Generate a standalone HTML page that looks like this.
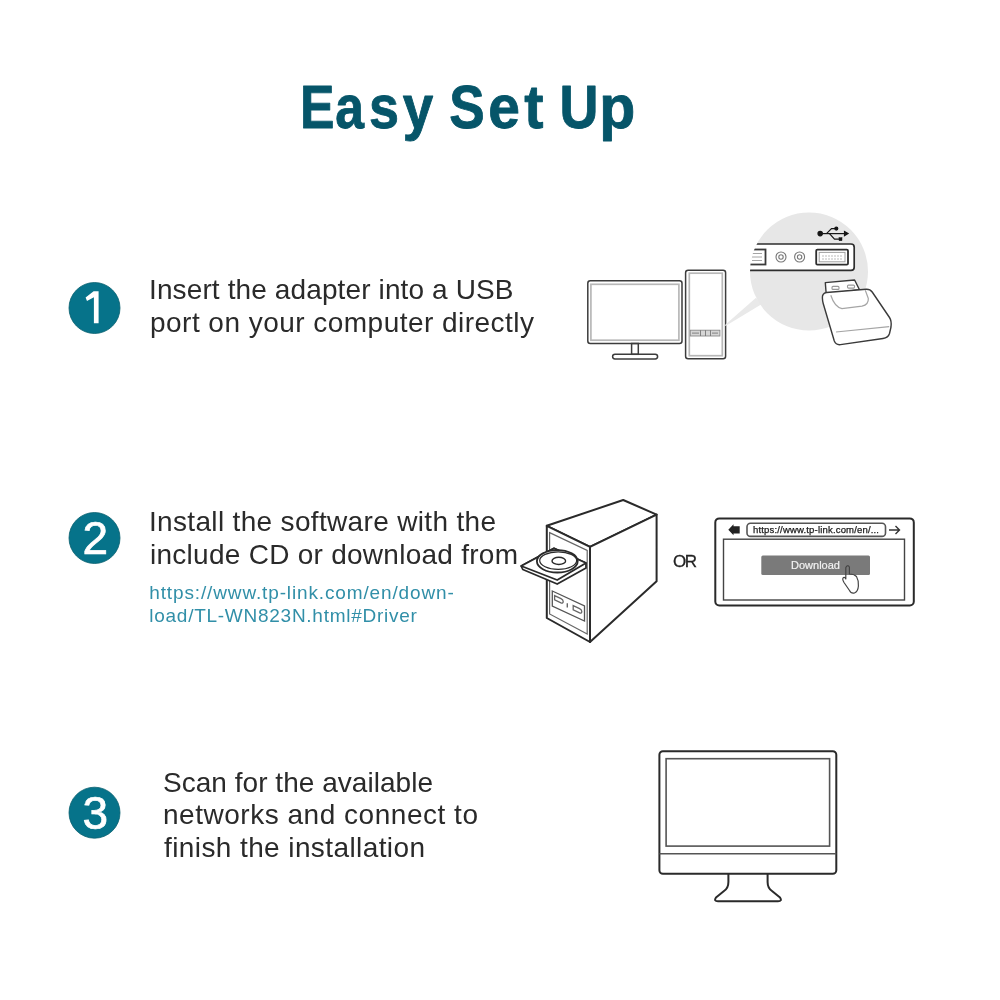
<!DOCTYPE html>
<html><head><meta charset="utf-8">
<style>
html,body{margin:0;padding:0;background:#fff;width:1000px;height:1000px;overflow:hidden}
svg{display:block;position:absolute;left:0;top:0;will-change:transform}
text{font-family:"Liberation Sans",sans-serif}
</style></head>
<body>
<svg width="1000" height="1000" viewBox="0 0 1000 1000">
<defs>
<clipPath id="magclip"><circle cx="809" cy="271.5" r="59"/></clipPath>
</defs>
<!-- Title -->
<g font-size="61.5" font-weight="bold" fill="#065569" stroke="#065569" stroke-width="0.9" stroke-linejoin="round">
<text transform="translate(300.02,128.0) scale(0.840,1)">E</text>
<text transform="translate(335.21,128.0) scale(0.840,1)">a</text>
<text transform="translate(368.90,128.0) scale(0.877,1)">s</text>
<text transform="translate(402.65,128.0) scale(0.891,1)">y</text>
<text transform="translate(449.29,128.0) scale(0.864,1)">S</text>
<text transform="translate(488.30,128.0) scale(0.926,1)">e</text>
<text transform="translate(524.15,128.0) scale(0.938,1)">t</text>
<text transform="translate(559.52,128.0) scale(0.877,1)">U</text>
<text transform="translate(599.31,128.0) scale(0.959,1)">p</text>
</g>

<!-- Step circles -->
<g fill="#06738a" stroke="#08606f" stroke-width="0.8">
<circle cx="94.5" cy="308" r="25.5"/>
<circle cx="94.5" cy="538" r="25.5"/>
<circle cx="94.5" cy="812.7" r="25.5"/>
</g>
<path d="M93.6,291.2 H98.6 V323.3 H93.9 V297.2 L87,301 L85.6,297.6 Z" fill="#fff"/>
<g fill="#fff" stroke="#fff" stroke-width="0.7" font-size="46" text-anchor="middle">
<text x="95.3" y="553.8">2</text>
<text x="95.3" y="829">3</text>
</g>

<!-- Body text -->
<g fill="#2a2a2a" font-size="28">
<text x="149" y="298.5" textLength="364.5" lengthAdjust="spacing">Insert the adapter into a USB</text>
<text x="150" y="331.5" textLength="384" lengthAdjust="spacing">port on your computer directly</text>
<text x="149" y="531" textLength="347" lengthAdjust="spacing">Install the software with the</text>
<text x="150" y="564" textLength="368" lengthAdjust="spacing">include CD or download from</text>
<text x="163" y="791.5" textLength="270" lengthAdjust="spacing">Scan for the available</text>
<text x="163" y="824" textLength="315" lengthAdjust="spacing">networks and connect to</text>
<text x="164" y="857" textLength="261" lengthAdjust="spacing">finish the installation</text>
</g>
<g fill="#318fa8" font-size="19">
<text x="149.3" y="598.9" textLength="304.5" lengthAdjust="spacing">https://www.tp-link.com/en/down-</text>
<text x="149.3" y="621.9" textLength="267.5" lengthAdjust="spacing">load/TL-WN823N.html#Driver</text>
</g>

<!-- Illustration 1 -->
<g fill="none" stroke="#3c3c3c" stroke-width="1.5">
<rect x="587.8" y="280.8" width="94.2" height="62.7" rx="2.5"/>
<rect x="631.6" y="343.5" width="6.7" height="10.8"/>
<rect x="612.6" y="354.2" width="45" height="4.8" rx="2.4"/>
<rect x="685.6" y="270.2" width="40" height="88.5" rx="2.5"/>
</g>
<g fill="none" stroke="#b8b8b8" stroke-width="1.7">
<rect x="590.9" y="284.3" width="88" height="55.9"/>
<rect x="689.3" y="273.2" width="33" height="82.5"/>
</g>
<rect x="690.3" y="330.2" width="29.6" height="5.8" fill="#d6d6d6" stroke="#8a8a8a" stroke-width="0.9"/>
<g stroke="#777" stroke-width="0.9" fill="none">
<path d="M700.5,330.2 V336 M705.5,330.2 V336 M710.5,330.2 V336"/>
<path d="M692,333.1 H699 M712,333.1 H718"/>
</g>
<polygon points="725,325 756,297.8 761.5,304.2 725.5,326" fill="#e9e9e9"/>
<circle cx="809" cy="271.5" r="59" fill="#e7e7e7"/>
<g clip-path="url(#magclip)">
<path d="M740,244 H851 Q854.2,244 854.2,247.2 V267.2 Q854.2,270.4 851,270.4 H740 Z" fill="#fff" stroke="#2e2e2e" stroke-width="1.7"/>
<rect x="745" y="249.5" width="20.5" height="15" fill="#fff" stroke="#3a3a3a" stroke-width="1.8"/>
<path d="M752,253.5 H762 M752,257 H762 M752,260.5 H762" stroke="#9a9a9a" stroke-width="0.9"/>
</g>
<g fill="none" stroke="#777" stroke-width="1.1">
<circle cx="781" cy="257" r="5"/><circle cx="781" cy="257" r="2.2"/>
<circle cx="799.6" cy="257" r="5"/><circle cx="799.6" cy="257" r="2.2"/>
</g>
<rect x="816.2" y="249.6" width="31.8" height="15" rx="1.2" fill="#fff" stroke="#2e2e2e" stroke-width="1.8"/>
<rect x="819.2" y="252.4" width="25.8" height="9.4" fill="none" stroke="#a0a0a0" stroke-width="1"/>
<path d="M822,256 H842 M822,259 H842" stroke="#aaa" stroke-width="0.8" stroke-dasharray="2,1"/>
<!-- USB symbol -->
<g stroke="#151515" stroke-width="1.2" fill="#151515">
<circle cx="820.2" cy="233.6" r="2.2"/>
<path d="M820,233.6 H845" fill="none"/>
<path d="M844.5,231.6 L848,233.6 L844.5,235.6 Z"/>
<path d="M826.5,233.6 L831.5,228.6 H835.5" fill="none"/>
<circle cx="836.3" cy="228.6" r="1.5"/>
<path d="M829.5,233.6 L834.5,239.2 H839" fill="none"/>
<rect x="839" y="237.7" width="3" height="3" stroke-width="0.5"/>
</g>
<!-- adapter -->
<g stroke="#3a3a3a" stroke-width="1.4" fill="#fff" stroke-linejoin="round">
<path d="M825.3,282.6 L854.6,280 L859.5,289.8 L826.2,294 Z"/>
<path d="M822.4,298 Q822,293.5 826.5,292.5 L866,289.3 Q870,289 872.2,292 L889.5,317.5 Q891.8,321 891,327 L889.5,333.5 Q888.2,337.8 883,338.5 L840.5,344.6 Q836,345.2 834.3,341 L823.2,303.5 Q822.5,301 822.4,298 Z"/>
</g>
<g fill="none" stroke="#a5a5a5" stroke-width="1.2">
<path d="M830.8,295.2 Q834.5,306.8 842,308.6 L862,306.2 Q868.8,304.5 868.3,298.5 L865.3,290.2"/>
<path d="M836,332 L889.2,326.7"/>
</g>
<g fill="none" stroke="#999" stroke-width="1.1">
<rect x="832" y="286.4" width="7" height="3" rx="1"/>
<rect x="847.5" y="285.1" width="7" height="3" rx="1"/>
</g>

<!-- Illustration 2: CD tower -->
<g fill="#fff" stroke="#2a2a2a" stroke-width="2" stroke-linejoin="round">
<path d="M546.8,525.8 L623.2,500 L656.6,514.6 L590,546.8 Z"/>
<path d="M590,546.8 L656.6,514.6 L656.6,581.2 L590,642 Z"/>
<path d="M546.8,525.8 L590,546.8 L590,642 L546.8,618 Z"/>
</g>
<path d="M549.6,532.6 L587.2,550.5 L587.2,634 L549.6,614 Z" fill="none" stroke="#666" stroke-width="1.2"/>
<g fill="none" stroke="#444" stroke-width="1.4">
<path d="M552.3,591 L584.5,605.8 L584.5,621 L552.3,606 Z" stroke="#555" stroke-width="1.3"/>
<path d="M554.6,595.6 L561,598.6 Q563.2,599.7 563.2,601.5 Q563.2,603.6 561,602.8 L554.6,599.8 Z" stroke="#666" stroke-width="1.3"/>
<path d="M567.3,603.3 V607.6" stroke="#666" stroke-width="1.4"/>
<path d="M573.2,605.6 L579.6,608.6 Q581.8,609.7 581.8,611.5 Q581.8,613.6 579.6,612.8 L573.2,609.8 Z" stroke="#666" stroke-width="1.3"/>
</g>
<!-- tray -->
<g stroke="#2a2a2a" stroke-width="1.8" stroke-linejoin="round" fill="#fff">
<path d="M521.2,566 L522.8,569.5 L557.2,584 L586,568 L586,563 L554,548.4 Z"/>
<path d="M521.2,566 L554,548.4 L586,563 L557.2,580 Z"/>
<ellipse cx="557.3" cy="561.3" rx="20.4" ry="11.2"/>
<ellipse cx="558.2" cy="560.6" rx="18.5" ry="8.8" stroke-width="1.2"/>
<ellipse cx="558.8" cy="560.9" rx="6.8" ry="3.6" stroke-width="1.4"/>
</g>
<text x="673" y="567" font-size="17" fill="#222" stroke="#222" stroke-width="0.3" textLength="24" lengthAdjust="spacing">OR</text>

<!-- Browser -->
<rect x="715.3" y="518.4" width="198.5" height="87" rx="4" fill="#fff" stroke="#2a2a2a" stroke-width="2"/>
<rect x="723.5" y="539.2" width="181" height="60.8" fill="none" stroke="#444" stroke-width="1.4"/>
<rect x="747" y="523.2" width="138.5" height="13.2" rx="3.5" fill="#fff" stroke="#555" stroke-width="1.6"/>
<path d="M728.3,529.8 L733.5,524.3 L733.5,526.3 L739.7,526.3 L739.7,533.4 L733.5,533.4 L733.5,535.3 Z" fill="#222"/>
<path d="M889,530 H899.5 M895.5,526 L899.5,530 L895.5,534" fill="none" stroke="#333" stroke-width="1.4"/>
<text x="753" y="533.3" font-size="9.5" fill="#1a1a1a" stroke="#1a1a1a" stroke-width="0.25" textLength="126" lengthAdjust="spacing">https://www.tp-link.com/en/...</text>
<rect x="761.3" y="555.4" width="108.7" height="19.6" rx="1.5" fill="#7a7a7a"/>
<text x="815.5" y="569" font-size="11" fill="#f2f2f2" stroke="#f2f2f2" stroke-width="0.2" text-anchor="middle">Download</text>
<path d="M845.8,567.5 Q847.6,564.2 849.4,567 V574 Q854,574 856.5,576.5 Q858.6,580 858.4,586 Q858,591.5 854.5,593 Q851,593.8 849.5,590.5 L844,582.5 Q841.8,578.8 843.5,577.6 Q845,577 845.8,579 Z" fill="none" stroke="#444" stroke-width="1.2" stroke-linejoin="round"/>

<!-- Illustration 3: monitor -->
<path d="M728.4,873.7 V882 Q728.4,888 724,891 L716,897.5 Q713.5,901.3 718,901.3 H778 Q782.5,901.3 780,897.5 L772,891 Q767.6,888 767.6,882 V873.7" fill="#fff" stroke="#2a2a2a" stroke-width="2" stroke-linejoin="round"/>
<rect x="659.4" y="751.2" width="176.9" height="122.5" rx="3.5" fill="#fff" stroke="#2a2a2a" stroke-width="2"/>
<rect x="666.1" y="758.7" width="163.5" height="87.4" fill="none" stroke="#555" stroke-width="1.6"/>
<line x1="659.4" y1="853.7" x2="836.3" y2="853.7" stroke="#555" stroke-width="1.6"/>
</svg>
</body></html>
